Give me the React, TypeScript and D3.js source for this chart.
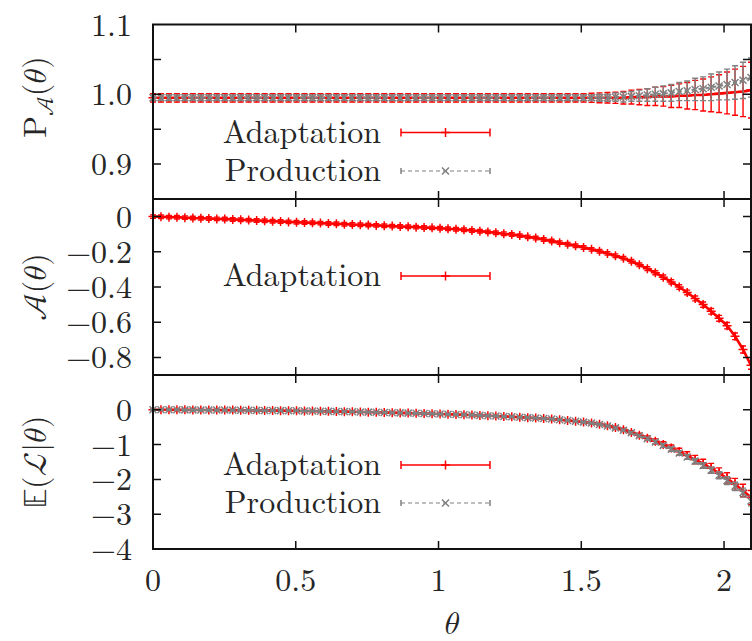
import React from 'react';
import * as d3 from 'd3';

// ---------- data ----------
const theta = [
  0, 0.0279, 0.0559, 0.0838, 0.1117, 0.1396, 0.1676, 0.1955, 0.2234, 0.2513,
  0.2793, 0.3072, 0.3351, 0.3630, 0.3910, 0.4189, 0.4468, 0.4747, 0.5027, 0.5306,
  0.5585, 0.5864, 0.6144, 0.6423, 0.6702, 0.6981, 0.7261, 0.7540, 0.7819, 0.8099,
  0.8378, 0.8657, 0.8936, 0.9215, 0.9495, 0.9774, 1.0053, 1.0332, 1.0612, 1.0891,
  1.1170, 1.1449, 1.1729, 1.2008, 1.2287, 1.2566, 1.2846, 1.3125, 1.3404, 1.3683,
  1.3963, 1.4242, 1.4521, 1.4800, 1.5080, 1.5359, 1.5638, 1.5917, 1.6197, 1.6476,
  1.6755, 1.7034, 1.7314, 1.7593, 1.7872, 1.8151, 1.8431, 1.8710, 1.8989, 1.9268,
  1.9548, 1.9827, 2.0106, 2.0385, 2.0665, 2.0944,
];

const adaptP = [
  0.995, 0.995, 0.995, 0.995, 0.995, 0.995, 0.995, 0.995, 0.995, 0.995,
  0.995, 0.995, 0.995, 0.995, 0.995, 0.995, 0.995, 0.995, 0.995, 0.995,
  0.995, 0.995, 0.995, 0.995, 0.995, 0.995, 0.995, 0.995, 0.995, 0.995,
  0.995, 0.995, 0.995, 0.995, 0.995, 0.995, 0.995, 0.995, 0.995, 0.995,
  0.995, 0.995, 0.995, 0.995, 0.995, 0.995, 0.995, 0.995, 0.995, 0.995,
  0.995, 0.995, 0.995, 0.995, 0.995, 0.995, 0.995, 0.995, 0.995, 0.995,
  0.996, 0.996, 0.996, 0.997, 0.997, 0.997, 0.998, 0.998, 0.999, 0.999,
  1.000, 1.001, 1.002, 1.003, 1.004, 1.006,
];
const adaptPErr = [
  0.006, 0.006, 0.006, 0.006, 0.006, 0.006, 0.006, 0.006, 0.006, 0.006,
  0.006, 0.006, 0.006, 0.006, 0.006, 0.006, 0.006, 0.006, 0.006, 0.006,
  0.006, 0.006, 0.006, 0.006, 0.006, 0.006, 0.006, 0.006, 0.006, 0.006,
  0.006, 0.006, 0.006, 0.006, 0.006, 0.006, 0.006, 0.006, 0.006, 0.006,
  0.006, 0.006, 0.006, 0.006, 0.006, 0.006, 0.006, 0.006, 0.006, 0.006,
  0.006, 0.006, 0.006, 0.006, 0.006, 0.0065, 0.007, 0.0075, 0.008, 0.009,
  0.010, 0.011, 0.012, 0.013, 0.014, 0.016, 0.017, 0.019, 0.021, 0.023,
  0.025, 0.027, 0.030, 0.033, 0.036, 0.040,
];
const prodP = [
  0.995, 0.995, 0.995, 0.995, 0.995, 0.995, 0.995, 0.995, 0.995, 0.995,
  0.995, 0.995, 0.995, 0.995, 0.995, 0.995, 0.995, 0.995, 0.995, 0.995,
  0.995, 0.995, 0.995, 0.995, 0.995, 0.995, 0.995, 0.995, 0.995, 0.995,
  0.995, 0.995, 0.995, 0.995, 0.995, 0.995, 0.995, 0.995, 0.995, 0.995,
  0.995, 0.995, 0.995, 0.995, 0.995, 0.995, 0.995, 0.995, 0.995, 0.995,
  0.995, 0.995, 0.995, 0.995, 0.995, 0.995, 0.995, 0.995, 0.996, 0.996,
  0.997, 0.998, 0.999, 1.000, 1.001, 1.002, 1.004, 1.005, 1.007, 1.008,
  1.010, 1.012, 1.014, 1.017, 1.020, 1.024,
];
const prodPErr = [
  0.004, 0.004, 0.004, 0.004, 0.004, 0.004, 0.004, 0.004, 0.004, 0.004,
  0.004, 0.004, 0.004, 0.004, 0.004, 0.004, 0.004, 0.004, 0.004, 0.004,
  0.004, 0.004, 0.004, 0.004, 0.004, 0.004, 0.004, 0.004, 0.004, 0.004,
  0.004, 0.004, 0.004, 0.004, 0.004, 0.004, 0.004, 0.004, 0.004, 0.004,
  0.004, 0.004, 0.004, 0.004, 0.004, 0.004, 0.004, 0.004, 0.004, 0.004,
  0.004, 0.004, 0.004, 0.004, 0.004, 0.004, 0.005, 0.005, 0.006, 0.007,
  0.007, 0.008, 0.009, 0.010, 0.011, 0.012, 0.013, 0.014, 0.016, 0.017,
  0.019, 0.020, 0.022, 0.024, 0.026, 0.028,
];

const adaptA = [
  0, -0.001, -0.003, -0.004, -0.006, -0.008, -0.009, -0.011, -0.013, -0.014,
  -0.016, -0.018, -0.020, -0.022, -0.024, -0.026, -0.028, -0.030, -0.032, -0.034,
  -0.035, -0.037, -0.039, -0.041, -0.043, -0.045, -0.046, -0.048, -0.050, -0.052,
  -0.054, -0.056, -0.058, -0.060, -0.062, -0.064, -0.066, -0.069, -0.072, -0.075,
  -0.079, -0.083, -0.087, -0.092, -0.097, -0.102, -0.108, -0.115, -0.122, -0.130,
  -0.139, -0.148, -0.157, -0.166, -0.176, -0.186, -0.197, -0.209, -0.222, -0.236,
  -0.254, -0.274, -0.296, -0.319, -0.344, -0.371, -0.400, -0.431, -0.465, -0.500,
  -0.538, -0.578, -0.620, -0.680, -0.755, -0.845,
];
const adaptAErr = [
  0.010, 0.010, 0.010, 0.010, 0.010, 0.010, 0.010, 0.010, 0.010, 0.010,
  0.010, 0.010, 0.010, 0.010, 0.010, 0.010, 0.010, 0.010, 0.010, 0.010,
  0.010, 0.010, 0.010, 0.010, 0.010, 0.010, 0.010, 0.010, 0.010, 0.010,
  0.010, 0.010, 0.010, 0.010, 0.010, 0.010, 0.010, 0.010, 0.010, 0.010,
  0.010, 0.010, 0.010, 0.010, 0.010, 0.010, 0.010, 0.010, 0.010, 0.010,
  0.010, 0.010, 0.010, 0.010, 0.010, 0.010, 0.010, 0.010, 0.010, 0.010,
  0.010, 0.010, 0.011, 0.011, 0.012, 0.012, 0.013, 0.013, 0.014, 0.015,
  0.016, 0.017, 0.018, 0.019, 0.020, 0.022,
];

const adaptE = [
  0, 0, 0, -0.001, -0.002, -0.003, -0.004, -0.005, -0.006, -0.008,
  -0.009, -0.011, -0.013, -0.016, -0.018, -0.021, -0.024, -0.027, -0.030, -0.034,
  -0.037, -0.041, -0.045, -0.049, -0.053, -0.058, -0.062, -0.067, -0.072, -0.077,
  -0.083, -0.089, -0.095, -0.101, -0.107, -0.114, -0.121, -0.128, -0.136, -0.144,
  -0.152, -0.161, -0.170, -0.180, -0.190, -0.201, -0.213, -0.225, -0.238, -0.252,
  -0.265, -0.284, -0.306, -0.330, -0.354, -0.382, -0.415, -0.458, -0.510, -0.575,
  -0.650, -0.730, -0.815, -0.905, -1.000, -1.100, -1.205, -1.315, -1.430, -1.550,
  -1.680, -1.820, -1.970, -2.140, -2.320, -2.520,
];
const adaptEErr = [
  0.020, 0.020, 0.020, 0.020, 0.020, 0.020, 0.020, 0.020, 0.020, 0.020,
  0.020, 0.020, 0.020, 0.020, 0.020, 0.020, 0.020, 0.020, 0.020, 0.020,
  0.020, 0.020, 0.020, 0.020, 0.020, 0.020, 0.020, 0.020, 0.020, 0.020,
  0.020, 0.020, 0.020, 0.020, 0.020, 0.020, 0.020, 0.020, 0.020, 0.020,
  0.020, 0.020, 0.020, 0.020, 0.020, 0.020, 0.020, 0.020, 0.020, 0.020,
  0.020, 0.020, 0.020, 0.025, 0.025, 0.030, 0.030, 0.035, 0.040, 0.045,
  0.050, 0.055, 0.060, 0.070, 0.080, 0.090, 0.100, 0.110, 0.120, 0.130,
  0.140, 0.150, 0.160, 0.170, 0.180, 0.200,
];
const prodE = [
  0, 0, 0, -0.001, -0.002, -0.003, -0.004, -0.005, -0.006, -0.008,
  -0.009, -0.011, -0.013, -0.016, -0.018, -0.021, -0.024, -0.027, -0.030, -0.034,
  -0.037, -0.041, -0.045, -0.049, -0.053, -0.058, -0.062, -0.067, -0.072, -0.077,
  -0.083, -0.089, -0.095, -0.101, -0.107, -0.114, -0.121, -0.128, -0.136, -0.144,
  -0.152, -0.161, -0.170, -0.180, -0.190, -0.201, -0.213, -0.225, -0.238, -0.252,
  -0.265, -0.284, -0.306, -0.330, -0.354, -0.382, -0.420, -0.465, -0.520, -0.585,
  -0.660, -0.745, -0.830, -0.925, -1.025, -1.130, -1.240, -1.355, -1.475, -1.600,
  -1.735, -1.880, -2.035, -2.200, -2.380, -2.620,
];
const prodEErr = [
  0.015, 0.015, 0.015, 0.015, 0.015, 0.015, 0.015, 0.015, 0.015, 0.015,
  0.015, 0.015, 0.015, 0.015, 0.015, 0.015, 0.015, 0.015, 0.015, 0.015,
  0.015, 0.015, 0.015, 0.015, 0.015, 0.015, 0.015, 0.015, 0.015, 0.015,
  0.015, 0.015, 0.015, 0.015, 0.015, 0.015, 0.015, 0.015, 0.015, 0.015,
  0.015, 0.015, 0.015, 0.015, 0.015, 0.015, 0.015, 0.015, 0.015, 0.015,
  0.015, 0.015, 0.015, 0.015, 0.020, 0.020, 0.025, 0.025, 0.030, 0.030,
  0.035, 0.040, 0.045, 0.050, 0.055, 0.060, 0.065, 0.070, 0.075, 0.080,
  0.090, 0.100, 0.110, 0.120, 0.130, 0.140,
];

const xTicks = [0.5, 1, 1.5, 2];
const xTickLabels = ['0', '0.5', '1', '1.5', '2'];
const xLabelValues = [0, 0.5, 1, 1.5, 2];

const topTicks = [0.9, 0.95, 1.0, 1.05];
const topLabels = ['0.9', '1.0', '1.1'];
const topLabelValues = [0.9, 1.0, 1.1];
const midTicks = [0, -0.2, -0.4, -0.6, -0.8];
const midLabels = ['0', '−0.2', '−0.4', '−0.6', '−0.8'];
const midLabelValues = [0, -0.2, -0.4, -0.6, -0.8];
const botTicks = [0, -1, -2, -3];
const botLabels = ['0', '−1', '−2', '−3', '−4'];
const botLabelValues = [0, -1, -2, -3, -4];

const seriesNames = ['Adaptation', 'Production'];

// ---------- layout ----------
const W = 752;
const H = 641;
const X0 = 153;
const X1 = 751;
const RED = '#ff0000';
const GRAY = '#808080';
const FONT = 'Latin Modern Roman';
const MATH = 'Latin Modern Math';
const FS = 32;
const TICK = 8;
const TXT = '#262626';

type SeriesProps = {
  xs: number[];
  ys: number[];
  errs: number[];
  x: d3.ScaleLinear<number, number>;
  y: d3.ScaleLinear<number, number>;
  color: string;
  dashed?: boolean;
  marker: 'plus' | 'cross';
};

function markerPath(kind: 'plus' | 'cross', cx: number, cy: number) {
  if (kind === 'plus') {
    const s = 4.5;
    return `M${cx - s},${cy}H${cx + s}M${cx},${cy - s}V${cy + s}`;
  }
  const s = 3.5;
  return `M${cx - s},${cy - s}L${cx + s},${cy + s}M${cx - s},${cy + s}L${cx + s},${cy - s}`;
}

function Series({ xs, ys, errs, x, y, color, dashed, marker }: SeriesProps) {
  const line = d3
    .line<number>()
    .x((_, i) => x(xs[i]))
    .y((d) => y(d));
  const cap = 3;
  let bars = '';
  ys.forEach((v, i) => {
    const cx = x(xs[i]);
    const y1 = y(v - errs[i]);
    const y2 = y(v + errs[i]);
    bars += `M${cx},${y1}V${y2}M${cx - cap},${y1}H${cx + cap}M${cx - cap},${y2}H${cx + cap}`;
  });
  let marks = '';
  ys.forEach((v, i) => {
    marks += markerPath(marker, x(xs[i]), y(v));
  });
  return (
    <g>
      <path d={bars} stroke={color} strokeWidth={1.4} fill="none" />
      <path
        d={line(ys) || ''}
        stroke={color}
        strokeWidth={dashed ? 2 : 2.6}
        fill="none"
        strokeDasharray={dashed ? '4,3' : undefined}
      />
      <path d={marks} stroke={color} strokeWidth={1.5} fill="none" />
    </g>
  );
}

function LegendEntry({
  label,
  cy,
  color,
  dashed,
  marker,
}: {
  label: string;
  cy: number;
  color: string;
  dashed?: boolean;
  marker: 'plus' | 'cross';
}) {
  const lx0 = 401;
  const lx1 = 490;
  const c = dashed ? 3 : 4;
  return (
    <g>
      <text x={381} y={cy + 10} textAnchor="end" fontFamily={FONT} fontSize={FS} fill={TXT}>
        {label}
      </text>
      <path
        d={`M${lx0},${cy}H${lx1}`}
        stroke={color}
        strokeWidth={dashed ? 1.2 : 1.5}
        strokeDasharray={dashed ? '4,3' : undefined}
      />
      <path d={`M${lx0},${cy - c}V${cy + c}M${lx1},${cy - c}V${cy + c}`} stroke={color} strokeWidth={1.5} />
      <path d={markerPath(marker, (lx0 + lx1) / 2, cy)} stroke={color} strokeWidth={1.5} fill="none" />
    </g>
  );
}

function Frame({
  y,
  top,
  bottom,
  x,
  yTicks,
  yLabels,
  yLabelValues,
  showX,
}: {
  y: d3.ScaleLinear<number, number>;
  top: number;
  bottom: number;
  x: d3.ScaleLinear<number, number>;
  yTicks: number[];
  yLabels: string[];
  yLabelValues: number[];
  showX: boolean;
}) {
  let ticks = '';
  yTicks.forEach((t) => {
    const yy = y(t);
    ticks += `M${X0},${yy}H${X0 + TICK}M${X1},${yy}H${X1 - TICK}`;
  });
  xTicks.forEach((t) => {
    const xx = x(t);
    ticks += `M${xx},${top}V${top + TICK}M${xx},${bottom}V${bottom - TICK}`;
  });
  return (
    <g>
      <path d={ticks} stroke="#111" strokeWidth={1.5} fill="none" />
      <rect x={X0} y={top} width={X1 - X0} height={bottom - top} fill="none" stroke="#111" strokeWidth={2} />
      {yLabels.map((lab, i) => (
        <text
          key={lab}
          x={132}
          y={y(yLabelValues[i]) + 11}
          textAnchor="end"
          fontFamily={FONT}
          fontSize={FS}
          fill={TXT}
        >
          {lab}
        </text>
      ))}
      {showX &&
        xTickLabels.map((lab, i) => (
          <text
            key={lab}
            x={x(xLabelValues[i])}
            y={bottom + 42}
            textAnchor="middle"
            fontFamily={FONT}
            fontSize={FS}
            fill={TXT}
          >
            {lab}
          </text>
        ))}
    </g>
  );
}

export default function App() {
  const x = d3.scaleLinear().domain([0, 2.0944]).range([X0, X1]);
  const topT = 24.5;
  const topB = 199;
  const midB = 375;
  const botB = 549;
  const yTop = d3.scaleLinear().domain([0.85, 1.1]).range([topB, topT]);
  const yMid = d3.scaleLinear().domain([-0.9, 0.1]).range([midB, topB]);
  const yBot = d3.scaleLinear().domain([-4, 1]).range([botB, midB]);

  return (
    <svg width={W} height={H} viewBox={`0 0 ${W} ${H}`} style={{ position: 'absolute', left: 0, top: 0 }}>
      <rect x={0} y={0} width={W} height={H} fill="#fff" />

      {/* top panel */}
      <Series xs={theta} ys={adaptP} errs={adaptPErr} x={x} y={yTop} color={RED} marker="plus" />
      <Series xs={theta} ys={prodP} errs={prodPErr} x={x} y={yTop} color={GRAY} dashed marker="cross" />
      <Frame
        y={yTop}
        top={topT}
        bottom={topB}
        x={x}
        yTicks={topTicks}
        yLabels={topLabels}
        yLabelValues={topLabelValues}
        showX={false}
      />
      <LegendEntry label={seriesNames[0]} cy={132.5} color={RED} marker="plus" />
      <LegendEntry label={seriesNames[1]} cy={171} color={GRAY} dashed marker="cross" />

      {/* middle panel */}
      <Series xs={theta} ys={adaptA} errs={adaptAErr} x={x} y={yMid} color={RED} marker="plus" />
      <Frame
        y={yMid}
        top={topB}
        bottom={midB}
        x={x}
        yTicks={midTicks}
        yLabels={midLabels}
        yLabelValues={midLabelValues}
        showX={false}
      />
      <LegendEntry label={seriesNames[0]} cy={276} color={RED} marker="plus" />

      {/* bottom panel */}
      <Series xs={theta} ys={adaptE} errs={adaptEErr} x={x} y={yBot} color={RED} marker="plus" />
      <Series xs={theta} ys={prodE} errs={prodEErr} x={x} y={yBot} color={GRAY} dashed marker="cross" />
      <Frame
        y={yBot}
        top={midB}
        bottom={botB}
        x={x}
        yTicks={botTicks}
        yLabels={botLabels}
        yLabelValues={botLabelValues}
        showX={true}
      />
      <LegendEntry label={seriesNames[0]} cy={465} color={RED} marker="plus" />
      <LegendEntry label={seriesNames[1]} cy={503} color={GRAY} dashed marker="cross" />

      {/* axis titles */}
      <text transform="translate(46,97) rotate(-90)" textAnchor="middle" fontFamily={MATH} fontSize={FS} fill={TXT}>
        P<tspan fontSize={23} dy={7}>𝒜</tspan>
        <tspan dy={-7}>(𝜃)</tspan>
      </text>
      <text transform="translate(46,287) rotate(-90)" textAnchor="middle" fontFamily={MATH} fontSize={FS} fill={TXT}>
        𝒜(𝜃)
      </text>
      <text transform="translate(46,462) rotate(-90)" textAnchor="middle" fontFamily={MATH} fontSize={FS} fill={TXT}>
        𝔼(ℒ|𝜃)
      </text>
      <text x={452} y={634} textAnchor="middle" fontFamily={MATH} fontSize={FS} fill={TXT}>
        𝜃
      </text>
    </svg>
  );
}
